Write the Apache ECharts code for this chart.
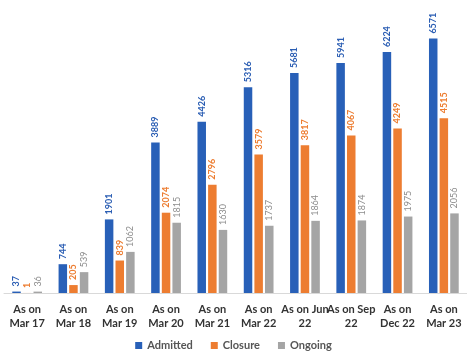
<!DOCTYPE html>
<html>
<head>
<meta charset="utf-8">
<script src="https://cdn.jsdelivr.net/npm/echarts@6/dist/echarts.min.js"></script>
<style>html,body{margin:0;padding:0;background:#fff;}#c{width:467px;height:362px;}</style>
</head>
<body>
<div id="c"></div>
<script>
const categories = ["As on\nMar 17","As on\nMar 18","As on\nMar 19","As on\nMar 20","As on\nMar 21","As on\nMar 22","As on Jun\n22","As on Sep\n22","As on\nDec 22","As on\nMar 23"];
const admitted = [37,744,1901,3889,4426,5316,5681,5941,6224,6571];
const closure = [1,205,839,2074,2796,3579,3817,4067,4249,4515];
const ongoing = [36,539,1062,1815,1630,1737,1864,1874,1975,2056];
const seriesNames = ["Admitted","Closure","Ongoing"];
const colors = ["#2860b8","#ed7d31","#a5a5a5"];
const labelColors = ["#2a5db3","#ed7d31","#8c8c8c"];
const labelWeights = ["bold","bold","normal"];

const chart = echarts.init(document.getElementById('c'));
function mk(name, data, i){
  return {
    name: name, type: 'bar', data: data,
    barWidth: 8.5, barGap: '25%',
    itemStyle: {color: colors[i]},
    label: {show: true, position: 'top', rotate: 90, align: 'left', verticalAlign: 'middle',
      distance: 5, fontSize: 9, fontWeight: labelWeights[i], color: labelColors[i], fontFamily: 'Lato'}
  };
}
chart.setOption({
  animation: false,
  textStyle: {fontFamily: 'Lato'},
  grid: {left: 4, right: 0, top: 22, bottom: 69, containLabel: false},
  legend: {bottom: 6, left: 'center', itemWidth: 7, itemHeight: 7, itemGap: 18,
    icon: 'rect', textStyle: {fontSize: 11, color: '#555', fontWeight: 'bold', fontFamily: 'Lato'},
    data: seriesNames},
  xAxis: {type: 'category', data: categories,
    axisLine: {lineStyle: {color: '#d9d9d9'}}, axisTick: {show: false},
    axisLabel: {interval: 0, fontSize: 11, color: '#333', fontWeight: 'bold', lineHeight: 14, margin: 9, fontFamily: 'Lato'}},
  yAxis: {type: 'value', min: 0, max: 7000, show: false, splitLine: {show: false}},
  series: [mk(seriesNames[0], admitted, 0), mk(seriesNames[1], closure, 1), mk(seriesNames[2], ongoing, 2)]
});
</script>
</body>
</html>
